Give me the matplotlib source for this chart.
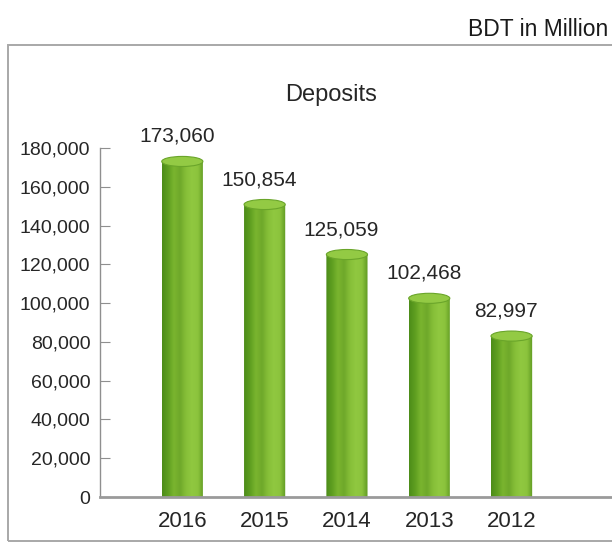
import numpy as np
import matplotlib.pyplot as plt
from matplotlib.colors import LinearSegmentedColormap
from matplotlib.patches import Ellipse, PathPatch, Rectangle
from matplotlib.path import Path

plt.rcParams['font.family'] = ['Liberation Sans', 'DejaVu Sans']

years = ["2016", "2015", "2014", "2013", "2012"]
deposits = [173060, 150854, 125059, 102468, 82997]
yticks = np.arange(0, 180001, 20000)

text_col = "#262626"
axis_col = "#8f8f8f"

# left-to-right shading of the cylinder body
body_cmap = LinearSegmentedColormap.from_list(
    "cyl", ["#4c8c19", "#5e9e20", "#7ab52f", "#6ea82a", "#86bf38", "#90c840", "#8cc43d", "#5f9a22"])

fig = plt.figure(figsize=(6.12, 5.43), dpi=100)
ax = fig.add_axes([100 / 612, 46 / 543, 512 / 612, 349 / 543])

w = 0.5
cap = 5200
grad = np.linspace(0, 1, 256).reshape(1, -1)

for i, v in enumerate(deposits):
    left, right = i - w / 2, i + w / 2
    # body outline: straight sides, rounded bottom
    t = np.linspace(0, np.pi, 40)
    bx = i + (w / 2) * np.cos(t)
    by = -(cap / 2) * np.sin(t)
    verts = [(left, v), (right, v)] + list(zip(bx, by)) + [(left, v)]
    codes = [Path.MOVETO] + [Path.LINETO] * (len(verts) - 2) + [Path.CLOSEPOLY]
    body = PathPatch(Path(verts, codes), facecolor="none", edgecolor="none")
    ax.add_patch(body)
    im = ax.imshow(grad, cmap=body_cmap, extent=[left, right, -cap, v],
                   aspect="auto", zorder=2, interpolation="bicubic")
    im.set_clip_path(body)
    # top of the cylinder
    ax.add_patch(Ellipse((i, v), w, cap, facecolor="#93ca44", edgecolor="#6aa52a",
                         lw=0.8, zorder=3, clip_on=False))
    ax.annotate(f"{v:,}", (i, v), xytext=(-4, 18), textcoords="offset points",
                ha="center", va="center", fontsize=15, color=text_col,
                annotation_clip=False)

ax.set_xlim(-1.0, 5.22)
ax.set_ylim(0, 180000)
ax.set_xticks(range(len(years)))
ax.set_xticklabels(years)
ax.set_yticks(yticks)
ax.set_yticklabels([f"{y:,}" for y in yticks])

ax.tick_params(axis="y", direction="in", length=7, color=axis_col, pad=7,
               labelsize=14, labelcolor=text_col)
ax.tick_params(axis="x", length=0, pad=10, labelsize=16, labelcolor=text_col)

for s in ["top", "right"]:
    ax.spines[s].set_visible(False)
ax.spines["left"].set_color(axis_col)
ax.spines["left"].set_linewidth(1.0)
ax.spines["bottom"].set_color("#9a9a9a")
ax.spines["bottom"].set_linewidth(2.0)
ax.set_facecolor("none")

fig.text(331 / 612, 1 - 95 / 543, "Deposits", ha="center", va="center",
         fontsize=17, color=text_col)
fig.text(608 / 612, 1 - 30 / 543, "BDT in Million", ha="right", va="center",
         fontsize=16.5, color="#1a1a1a")

# panel frame
fig.add_artist(Rectangle((8 / 612, 2 / 543), 1.2, 1 - 45 / 543 - 2 / 543,
                         transform=fig.transFigure, fill=False,
                         edgecolor="#a8a8a8", lw=1.4, zorder=0))

fig.savefig("out.png", dpi=100)
